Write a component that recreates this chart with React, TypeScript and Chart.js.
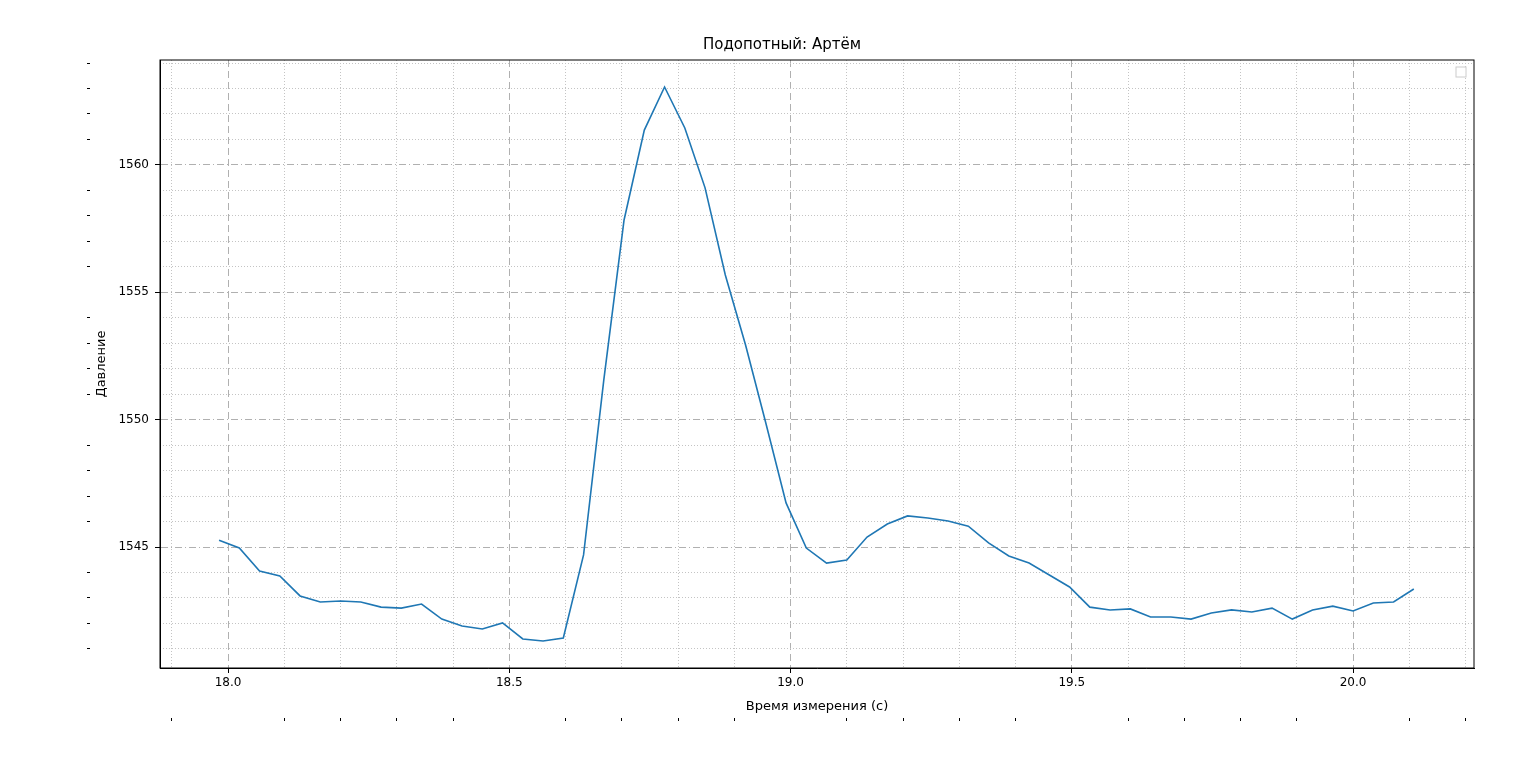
import React, { useEffect, useRef } from "react";
import { Chart, registerables } from "chart.js";

Chart.register(...registerables);

// sample times (s)
const times = [
  17.984, 18.02, 18.056, 18.092, 18.128, 18.164, 18.2, 18.236, 18.272, 18.308,
  18.344, 18.38, 18.416, 18.452, 18.488, 18.524, 18.56, 18.596, 18.632, 18.668,
  18.704, 18.74, 18.776, 18.812, 18.848, 18.884, 18.92, 18.956, 18.992, 19.028,
  19.064, 19.1, 19.136, 19.172, 19.208, 19.244, 19.28, 19.316, 19.352, 19.388,
  19.424, 19.46, 19.496, 19.532, 19.568, 19.604, 19.64, 19.676, 19.712, 19.748,
  19.784, 19.82, 19.856, 19.892, 19.928, 19.964, 20.0, 20.036, 20.072, 20.108,
];

// pressure readings
const pressure = [
  1545.27, 1544.96, 1544.06, 1543.86, 1543.08, 1542.84, 1542.88, 1542.84, 1542.64, 1542.6,
  1542.76, 1542.17, 1541.9, 1541.78, 1542.02, 1541.39, 1541.31, 1541.43, 1544.69, 1551.56,
  1557.84, 1561.37, 1563.06, 1561.45, 1559.1, 1555.68, 1552.93, 1549.87, 1546.73, 1544.96,
  1544.37, 1544.49, 1545.39, 1545.9, 1546.22, 1546.14, 1546.02, 1545.82, 1545.16, 1544.65,
  1544.37, 1543.9, 1543.43, 1542.64, 1542.53, 1542.57, 1542.25, 1542.25, 1542.17, 1542.41,
  1542.53, 1542.45, 1542.6, 1542.17, 1542.53, 1542.68, 1542.49, 1542.8, 1542.84, 1543.35,
];

const xMin = 17.879;
const xMax = 20.215;
const yMin = 1540.25;
const yMax = 1564.12;

const App: React.FC = () => {
  const canvasRef = useRef<HTMLCanvasElement | null>(null);

  useEffect(() => {
    document.body.style.margin = "0";
    const ctx = canvasRef.current?.getContext("2d");
    if (!ctx) return;
    Chart.defaults.font.family = "DejaVu Sans";
    Chart.defaults.color = "#000";

    const chart = new Chart(ctx, {
      type: "line",
      data: {
        datasets: [
          {
            data: times.map((t, i) => ({ x: t, y: pressure[i] })),
            borderColor: "#1f77b4",
            borderWidth: 1.6,
            pointRadius: 0,
            tension: 0,
          },
        ],
      },
      options: {
        animation: false,
        responsive: true,
        maintainAspectRatio: false,
        layout: { padding: { left: 90, right: 62, top: 0, bottom: 44 } },
        plugins: {
          legend: { display: false },
          tooltip: { enabled: false },
          title: {
            display: true,
            text: "Подопотный: Артём",
            font: { size: 15, weight: "normal" },
            padding: { top: 36, bottom: 6 },
          },
        },
        scales: {
          x: {
            type: "linear",
            min: xMin,
            max: xMax,
            afterBuildTicks: (s) => {
              s.ticks = [18, 18.5, 19, 19.5, 20].map((v) => ({ value: v }));
            },
            ticks: {
              font: { size: 12 },
              maxRotation: 0,
              callback: (v) => Number(v).toFixed(1),
            },
            grid: { color: "#b0b0b0", tickColor: "#000", tickLength: 5, tickBorderDash: [] },
            border: { display: true, color: "#000", dash: [7, 4] },
            title: { display: true, text: "Время измерения (с)", font: { size: 13 }, padding: { top: 2 } },
            afterFit: (s) => {
              s.height = 50;
            },
          },
          xMinor: {
            type: "linear",
            position: "bottom",
            min: xMin,
            max: xMax,
            afterBuildTicks: (s) => {
              const arr = [];
              for (let k = 179; k <= 202; k++) if (k % 5 !== 0) arr.push({ value: k / 10 });
              s.ticks = arr;
            },
            ticks: { display: false },
            grid: { color: "#c4c4c4", tickColor: "#000", tickLength: 3, tickBorderDash: [] },
            border: { display: false, dash: [1, 2] },
            afterFit: (s) => {
              s.height = 0;
            },
          },
          y: {
            type: "linear",
            min: yMin,
            max: yMax,
            afterBuildTicks: (s) => {
              s.ticks = [1545, 1550, 1555, 1560].map((v) => ({ value: v }));
            },
            ticks: { font: { size: 12 }, padding: 6, callback: (v) => String(v) },
            grid: { color: "#b0b0b0", tickColor: "#000", tickLength: 5, tickBorderDash: [] },
            border: { display: true, color: "#000", dash: [7, 3, 1, 3] },
            title: { display: true, text: "Давление", font: { size: 13 } },
            afterFit: (s) => {
              s.width = 70;
            },
          },
          yMinor: {
            type: "linear",
            position: "left",
            min: yMin,
            max: yMax,
            afterBuildTicks: (s) => {
              const arr = [];
              for (let k = 1541; k <= 1564; k++) if (k % 5 !== 0) arr.push({ value: k });
              s.ticks = arr;
            },
            ticks: { display: false },
            grid: { color: "#c4c4c4", tickColor: "#000", tickLength: 3, tickBorderDash: [] },
            border: { display: false, dash: [1, 2] },
            afterFit: (s) => {
              s.width = 0;
            },
          },
        },
      },
      plugins: [
        {
          id: "frame",
          afterDraw: (c) => {
            const { left, right, top, bottom } = c.chartArea;
            const g = c.ctx;
            g.save();
            g.strokeStyle = "#000";
            g.lineWidth = 1;
            g.strokeRect(left, top, right - left, bottom - top);
            g.strokeStyle = "#ccc";
            g.fillStyle = "#fff";
            g.fillRect(right - 18, top + 7, 10, 10);
            g.strokeRect(right - 18, top + 7, 10, 10);
            g.restore();
          },
        },
      ],
    });

    return () => {
      chart.destroy();
    };
  }, []);

  return (
    <div style={{ width: "1536px", height: "762px" }}>
      <canvas ref={canvasRef} />
    </div>
  );
};

export default App;
